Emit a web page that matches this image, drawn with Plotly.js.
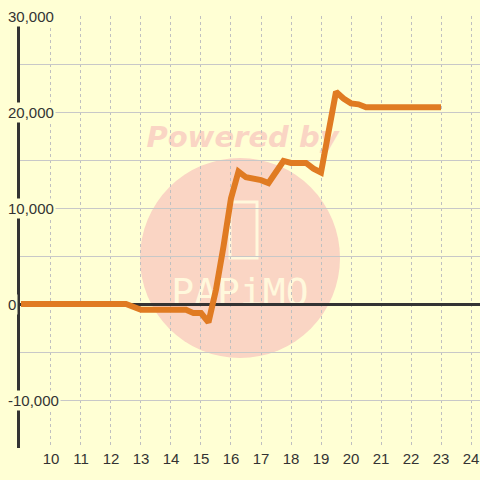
<!DOCTYPE html>
<html>
<head>
<meta charset="utf-8">
<script src="https://cdn.plot.ly/plotly-3.0.1.min.js"></script>
<style>html,body{margin:0;padding:0;background:#ffffd4;}#chart{width:480px;height:480px;}</style>
</head>
<body>
<div id="chart"></div>
<script>
// Data (hours of day vs cumulative value)
var hours  = [9.0, 12.5, 13.0, 14.5, 14.75, 15.0, 15.25, 15.5, 15.75, 16.0, 16.25, 16.5, 17.0, 17.25, 17.75, 18.0, 18.5, 18.75, 19.0, 19.5, 19.75, 20.0, 20.25, 20.5, 23.0];
var values = [0, 0, -600, -600, -950, -950, -1900, 1500, 6000, 11000, 13800, 13200, 12900, 12600, 14900, 14700, 14700, 14100, 13700, 22100, 21400, 20900, 20800, 20500, 20500];
var xTickVals = [10, 11, 12, 13, 14, 15, 16, 17, 18, 19, 20, 21, 22, 23, 24];
var yTickVals = [-10000, 0, 10000, 20000, 30000];
var yTickText = ['-10,000', '0', '10,000', '20,000', '30,000'];

var BG = '#ffffd4';
var W = 480, H = 480, ML = 20, MR = 0, MT = 16, MB = 32;
var PW = W - ML - MR, PH = H - MT - MB;
function px(x) { return (x - ML) / PW; }
function py(y) { return (H - MB - y) / PH; }

var annotations = yTickVals.map(function (v, i) {
  return {
    x: px(6), xref: 'paper', xanchor: 'left',
    y: v, yref: 'y', yanchor: 'middle',
    text: yTickText[i], showarrow: false,
    font: {family: 'Liberation Sans, Arial, sans-serif', size: 15, color: '#333333'},
    bgcolor: BG, borderpad: 1
  };
});

var wmColor = '#fad5c4';
var wmLight = '#fff8dc';
var shapes = [
  {type: 'circle', xref: 'paper', yref: 'paper', layer: 'below',
   x0: px(140), x1: px(340), y0: py(358), y1: py(158),
   fillcolor: wmColor, line: {width: 0}},
  {type: 'rect', xref: 'paper', yref: 'paper', layer: 'below',
   x0: px(230), x1: px(257), y0: py(258), y1: py(202),
   fillcolor: 'rgba(0,0,0,0)', line: {color: wmLight, width: 3}},
  {type: 'rect', xref: 'paper', yref: 'paper', layer: 'below',
   x0: px(140), x1: px(345), y0: py(152), y1: py(118),
   fillcolor: 'rgba(0,0,0,0)', line: {width: 0},
   label: {text: '<b><i>Powered by</i></b>', textposition: 'middle center',
           font: {family: 'DejaVu Sans, sans-serif', size: 29, color: wmColor}}},
  {type: 'rect', xref: 'paper', yref: 'paper', layer: 'below',
   x0: px(165), x1: px(315), y0: py(307), y1: py(271),
   fillcolor: 'rgba(0,0,0,0)', line: {width: 0},
   label: {text: 'PAPiMO', textposition: 'middle center',
           font: {family: 'DejaVu Sans Mono, monospace', size: 38, color: wmLight}}}
];

var trace = {
  x: hours, y: values, type: 'scatter', mode: 'lines',
  line: {color: '#e07b22', width: 6}, hoverinfo: 'skip'
};

var layout = {
  width: W, height: H,
  margin: {l: ML, r: MR, t: MT, b: MB, pad: 0},
  paper_bgcolor: BG, plot_bgcolor: 'rgba(0,0,0,0)',
  showlegend: false,
  font: {family: 'Liberation Sans, Arial, sans-serif', size: 15, color: '#333333'},
  xaxis: {
    range: [8.967, 24.3], tickvals: xTickVals, ticktext: xTickVals.map(String),
    showgrid: true, gridcolor: '#c0c0c0', griddash: 'dot', gridwidth: 1,
    zeroline: false, showline: false, ticks: '',
    tickfont: {size: 15, color: '#333333'}, fixedrange: true
  },
  yaxis: {
    range: [-15000, 30000], dtick: 5000, tick0: 0,
    showgrid: true, gridcolor: '#c8c8c8', gridwidth: 1,
    zeroline: true, zerolinecolor: '#333333', zerolinewidth: 3,
    showline: true, linecolor: '#333333', linewidth: 3,
    showticklabels: false, ticks: '', fixedrange: true
  },
  shapes: shapes,
  annotations: annotations
};

Plotly.newPlot('chart', [trace], layout, {displayModeBar: false, staticPlot: true});
</script>
</body>
</html>
